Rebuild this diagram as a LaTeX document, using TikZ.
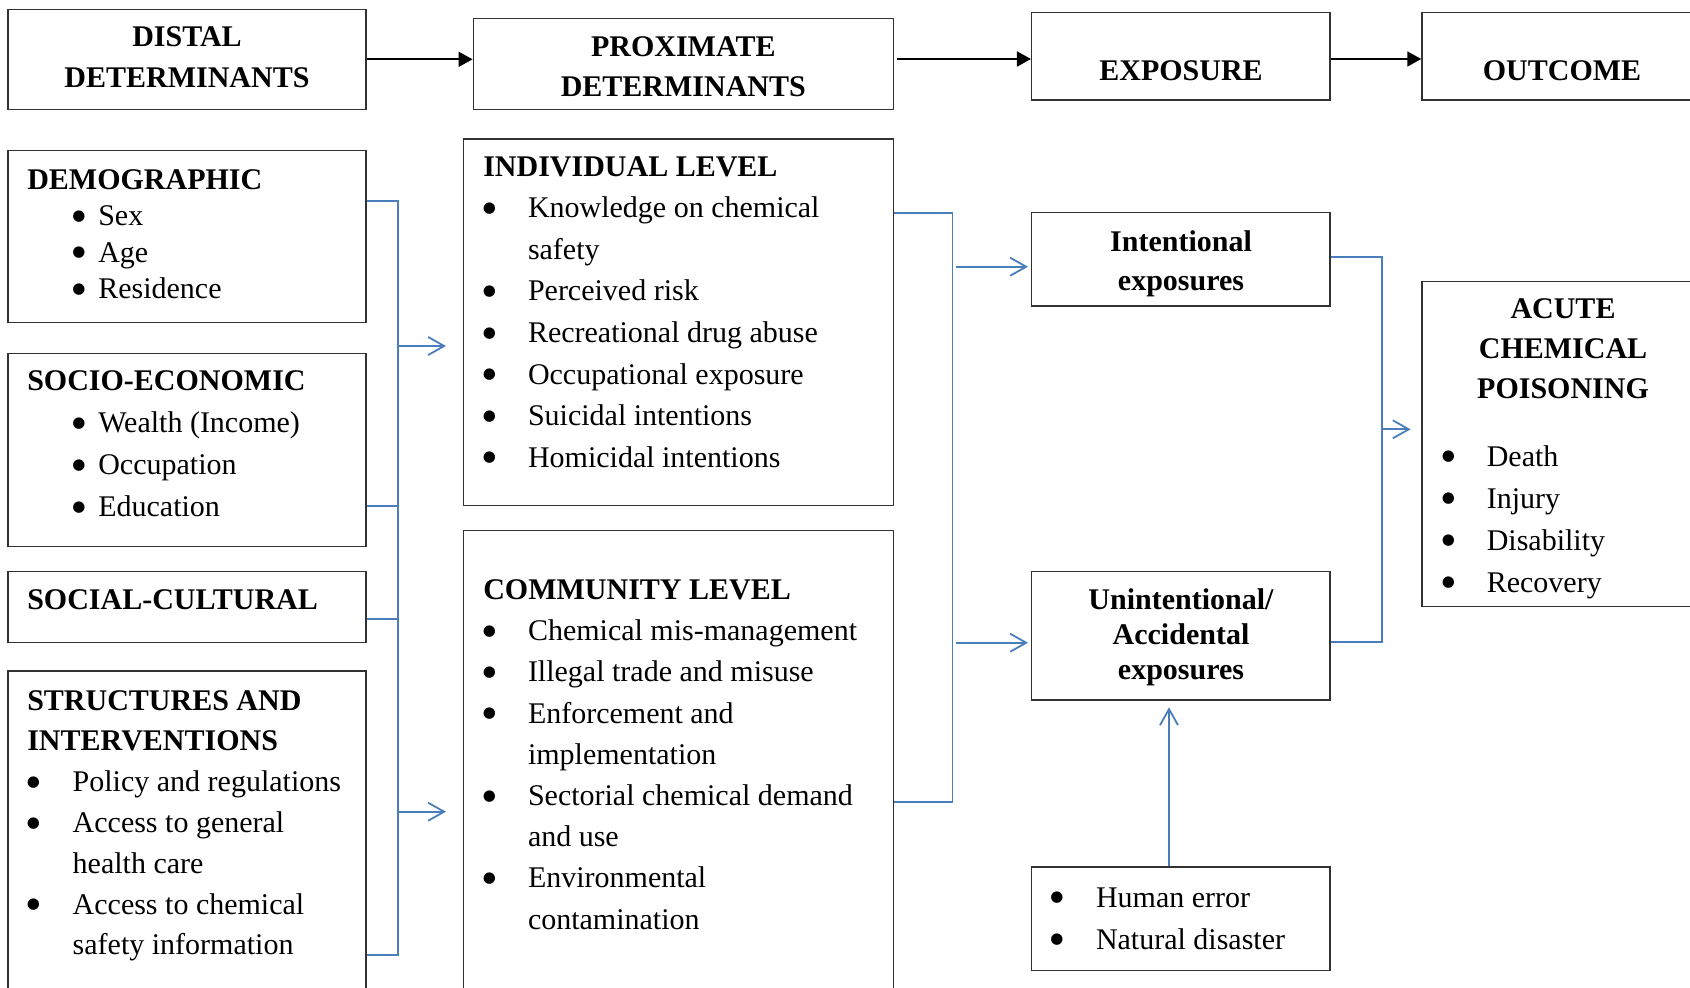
\documentclass[tikz,border=0pt]{standalone}
\usepackage{fontspec}
\setmainfont{Liberation Serif}
\newfontfamily\dejavu{DejaVu Sans}
\usetikzlibrary{arrows.meta,fit}
\definecolor{cblue}{RGB}{74,126,187}
\definecolor{cbox}{RGB}{50,50,50}
\newcommand\bigbul{\raisebox{2.7pt}{\dejavu\fontsize{7.5}{7.5}\selectfont ●}}
\newcommand\bl[3]{\makebox[0pt][l]{\hspace*{#1}\makebox[0pt]{\bigbul}}\hspace*{#2}#3}
\newcommand\lst[3]{\parbox[t]{#1}{\fontsize{15}{#2}\selectfont\raggedright #3}}
\newcommand\ctr[3]{\parbox[t]{#1}{\fontsize{15}{#2}\selectfont\centering\bfseries #3}}
\begin{document}
\begin{tikzpicture}[x=0.5pt,y=-0.5pt,
  box/.style={draw=cbox,line width=0.75pt,inner sep=0pt},
  txt/.style={inner sep=0pt,outer sep=0pt,anchor=base west},
  ctxt/.style={inner sep=0pt,outer sep=0pt,anchor=base},
  blk/.style={draw=black,line width=0.9pt,-{Triangle[length=7pt,width=7.5pt]}},
  blu/.style={draw=cblue,line width=0.9pt},
  blua/.style={draw=cblue,line width=0.9pt,-{Straight Barb[length=8pt,width=9pt]}}]
\useasboundingbox (0,0) rectangle (1690,987);
\clip (0,0) rectangle (1690,987);
\fill[white] (0,0) rectangle (1690,987);
% top row boxes
\node[box,fit={(8,9.3) (366,109.3)}] (distal) {};
\node[box,fit={(473.3,18.3) (893.3,109.3)}] (prox) {};
\node[box,fit={(1031.7,12.3) (1330,100)}] (expo) {};
\node[box,fit={(1422,12.3) (1704,100)}] (out) {};
\node[ctxt] (distalT) at (187,46.7) {\ctr{170pt}{20.3pt}{DISTAL\\DETERMINANTS}};
\node[ctxt] (proxT) at (683.3,56) {\ctr{200pt}{20pt}{PROXIMATE\\DETERMINANTS}};
\node[ctxt] (expoT) at (1181,80) {\ctr{140pt}{18pt}{EXPOSURE}};
\node[ctxt] (outT) at (1562,80) {\ctr{140pt}{18pt}{OUTCOME}};
% left column
\node[box,fit={(8,150.7) (366,322.7)}] (demo) {};
\node[box,fit={(8,353.3) (366,546.7)}] (socio) {};
\node[box,fit={(8,571.7) (366,642.7)}] (social) {};
\node[box,fit={(8,671) (366,1000)}] (strct) {};
\node[txt] (demoT) at (27.3,189.3) {\lst{170pt}{18.2pt}{\textbf{DEMOGRAPHIC}\\%
\bl{25.85pt}{35.5pt}{Sex}\\%
\bl{25.85pt}{35.5pt}{Age}\\%
\bl{25.85pt}{35.5pt}{Residence}}};
\node[txt] (socioT) at (27.3,390.7) {\lst{170pt}{21pt}{\textbf{SOCIO-ECONOMIC}\\%
\bl{25.85pt}{35.5pt}{Wealth (Income)}\\%
\bl{25.85pt}{35.5pt}{Occupation}\\%
\bl{25.85pt}{35.5pt}{Education}}};
\node[txt] (socialT) at (27.3,609.5) {\lst{170pt}{18pt}{\textbf{SOCIAL-CULTURAL}}};
\node[txt] (strctT) at (27.3,710) {\lst{170pt}{20.4pt}{\textbf{STRUCTURES AND}\\%
\textbf{INTERVENTIONS}\\%
\bl{3pt}{22.7pt}{Policy and regulations}\\%
\bl{3pt}{22.7pt}{Access to general}\\%
\hspace*{22.7pt}health care\\%
\bl{3pt}{22.7pt}{Access to chemical}\\%
\hspace*{22.7pt}safety information}};
% middle column
\node[box,fit={(463.3,139) (893.3,505.5)}] (indiv) {};
\node[box,fit={(463.3,530.7) (893.3,1000)}] (comm) {};
\node[txt] (indivT) at (483.3,176) {\lst{200pt}{20.8pt}{\textbf{INDIVIDUAL LEVEL}\\%
\bl{3pt}{22.35pt}{Knowledge on chemical}\\%
\hspace*{22.35pt}safety\\%
\bl{3pt}{22.35pt}{Perceived risk}\\%
\bl{3pt}{22.35pt}{Recreational drug abuse}\\%
\bl{3pt}{22.35pt}{Occupational exposure}\\%
\bl{3pt}{22.35pt}{Suicidal intentions}\\%
\bl{3pt}{22.35pt}{Homicidal intentions}}};
\node[txt] (commT) at (483.3,599.3) {\lst{200pt}{20.62pt}{\textbf{COMMUNITY LEVEL}\\%
\bl{3pt}{22.35pt}{Chemical mis-management}\\%
\bl{3pt}{22.35pt}{Illegal trade and misuse}\\%
\bl{3pt}{22.35pt}{Enforcement and}\\%
\hspace*{22.35pt}implementation\\%
\bl{3pt}{22.35pt}{Sectorial chemical demand}\\%
\hspace*{22.35pt}and use\\%
\bl{3pt}{22.35pt}{Environmental}\\%
\hspace*{22.35pt}contamination}};
% exposure column
\node[box,fit={(1031.7,212.7) (1330,306)}] (intent) {};
\node[box,fit={(1031.7,571.7) (1330,700)}] (unint) {};
\node[box,fit={(1031.7,867) (1330,970.7)}] (human) {};
\node[ctxt] (intentT) at (1181,251) {\ctr{140pt}{19.9pt}{Intentional\\exposures}};
\node[ctxt] (unintT) at (1181,609) {\ctr{140pt}{17.5pt}{Unintentional/\\Accidental\\exposures}};
\node[txt] (humanT) at (1050,907) {\lst{140pt}{21pt}{\bl{3.5pt}{23pt}{Human error}\\%
\bl{3.5pt}{23pt}{Natural disaster}}};
% outcome column
\node[box,fit={(1422,281.7) (1704,606.7)}] (acute) {};
\node[ctxt] (acuteT) at (1563,318.3) {\ctr{130pt}{20pt}{ACUTE\\CHEMICAL\\POISONING}};
\node[txt] (acuteL) at (1440,466) {\lst{120pt}{21pt}{\bl{4.25pt}{23.4pt}{Death}\\%
\bl{4.25pt}{23.4pt}{Injury}\\%
\bl{4.25pt}{23.4pt}{Disability}\\%
\bl{4.25pt}{23.4pt}{Recovery}}};
% black arrows
\draw[blk] (distal.east |- 0,59.3) -- (prox.west |- 0,59.3);
\draw[blk,shorten <=1.7pt] (prox.east |- 0,59) -- (expo.west |- 0,59);
\draw[blk] (expo.east |- 0,59) -- (out.west |- 0,59);
% left bracket
\coordinate (la1) at (446,346);
\coordinate (la2) at (446,811.7);
\draw[blu] (demo.east |- 0,200.7) -| (397.7,955) -- (strct.east |- 0,955);
\draw[blu] (socio.east |- 0,506) -- (397.7,506);
\draw[blu] (social.east |- 0,619.3) -- (397.7,619.3);
\draw[blua] (397.7,346) -- (la1);
\draw[blua] (397.7,811.7) -- (la2);
% right bracket
\coordinate (ra1) at (1028,266.7);
\coordinate (ra2) at (1028,642.7);
\draw[blu] (indiv.east |- 0,213.3) -| (952.5,801.7) -- (comm.east |- 0,801.7);
\draw[blua] (956,266.7) -- (ra1);
\draw[blua] (956,642.7) -- (ra2);
% outcome bracket
\coordinate (oa) at (1410.6,429.3);
\draw[blu] (intent.east |- 0,256.7) -| (1382,642.3) -- (unint.east |- 0,642.3);
\draw[blua] (1382,429.3) -- (oa);
% human error arrow
\coordinate (ha) at (1169,707.3);
\draw[blua] (human.north -| 1169,0) -- (ha);
\end{tikzpicture}
\end{document}
